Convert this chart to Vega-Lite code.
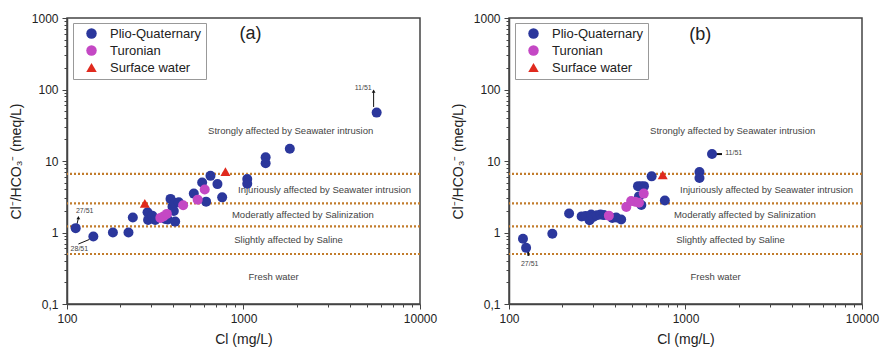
{
  "$schema": "https://vega.github.io/schema/vega-lite/v6.json",
  "padding": {"top": 11, "left": 8, "right": 4, "bottom": 0},
  "spacing": 12,
  "datasets": {
    "pts": [
      {"panel": "a", "group": "Plio-Quaternary", "cl": 112, "r": 1.15},
      {"panel": "a", "group": "Plio-Quaternary", "cl": 141, "r": 0.88},
      {"panel": "a", "group": "Plio-Quaternary", "cl": 182, "r": 1.0},
      {"panel": "a", "group": "Plio-Quaternary", "cl": 223, "r": 1.0},
      {"panel": "a", "group": "Plio-Quaternary", "cl": 236, "r": 1.62},
      {"panel": "a", "group": "Plio-Quaternary", "cl": 286, "r": 1.92},
      {"panel": "a", "group": "Plio-Quaternary", "cl": 288, "r": 1.5},
      {"panel": "a", "group": "Plio-Quaternary", "cl": 304, "r": 1.72},
      {"panel": "a", "group": "Plio-Quaternary", "cl": 316, "r": 1.5},
      {"panel": "a", "group": "Plio-Quaternary", "cl": 360, "r": 1.55},
      {"panel": "a", "group": "Plio-Quaternary", "cl": 372, "r": 1.52},
      {"panel": "a", "group": "Plio-Quaternary", "cl": 386, "r": 2.95},
      {"panel": "a", "group": "Plio-Quaternary", "cl": 396, "r": 2.3},
      {"panel": "a", "group": "Plio-Quaternary", "cl": 403, "r": 2.0},
      {"panel": "a", "group": "Plio-Quaternary", "cl": 405, "r": 2.6},
      {"panel": "a", "group": "Plio-Quaternary", "cl": 410, "r": 1.42},
      {"panel": "a", "group": "Plio-Quaternary", "cl": 430, "r": 2.65},
      {"panel": "a", "group": "Plio-Quaternary", "cl": 523, "r": 3.5},
      {"panel": "a", "group": "Plio-Quaternary", "cl": 583, "r": 5.0},
      {"panel": "a", "group": "Plio-Quaternary", "cl": 614, "r": 2.7},
      {"panel": "a", "group": "Plio-Quaternary", "cl": 650, "r": 6.2},
      {"panel": "a", "group": "Plio-Quaternary", "cl": 712, "r": 4.75},
      {"panel": "a", "group": "Plio-Quaternary", "cl": 757, "r": 3.1},
      {"panel": "a", "group": "Plio-Quaternary", "cl": 1050, "r": 5.6},
      {"panel": "a", "group": "Plio-Quaternary", "cl": 1050, "r": 4.8},
      {"panel": "a", "group": "Plio-Quaternary", "cl": 1335, "r": 11.3},
      {"panel": "a", "group": "Plio-Quaternary", "cl": 1335, "r": 9.3},
      {"panel": "a", "group": "Plio-Quaternary", "cl": 1830, "r": 14.8},
      {"panel": "a", "group": "Plio-Quaternary", "cl": 5680, "r": 47.5},
      {"panel": "a", "group": "Turonian", "cl": 338, "r": 1.6},
      {"panel": "a", "group": "Turonian", "cl": 352, "r": 1.68},
      {"panel": "a", "group": "Turonian", "cl": 368, "r": 1.82},
      {"panel": "a", "group": "Turonian", "cl": 455, "r": 2.4},
      {"panel": "a", "group": "Turonian", "cl": 550, "r": 2.88},
      {"panel": "a", "group": "Turonian", "cl": 603, "r": 4.0},
      {"panel": "a", "group": "Surface water", "cl": 276, "r": 2.55},
      {"panel": "a", "group": "Surface water", "cl": 790, "r": 7.1},
      {"panel": "b", "group": "Plio-Quaternary", "cl": 120, "r": 0.82},
      {"panel": "b", "group": "Plio-Quaternary", "cl": 125, "r": 0.61},
      {"panel": "b", "group": "Plio-Quaternary", "cl": 176, "r": 0.96},
      {"panel": "b", "group": "Plio-Quaternary", "cl": 219, "r": 1.84},
      {"panel": "b", "group": "Plio-Quaternary", "cl": 258, "r": 1.68},
      {"panel": "b", "group": "Plio-Quaternary", "cl": 272, "r": 1.7},
      {"panel": "b", "group": "Plio-Quaternary", "cl": 286, "r": 1.48},
      {"panel": "b", "group": "Plio-Quaternary", "cl": 292, "r": 1.78},
      {"panel": "b", "group": "Plio-Quaternary", "cl": 300, "r": 1.65},
      {"panel": "b", "group": "Plio-Quaternary", "cl": 315, "r": 1.74},
      {"panel": "b", "group": "Plio-Quaternary", "cl": 330, "r": 1.78},
      {"panel": "b", "group": "Plio-Quaternary", "cl": 345, "r": 1.75},
      {"panel": "b", "group": "Plio-Quaternary", "cl": 385, "r": 1.6},
      {"panel": "b", "group": "Plio-Quaternary", "cl": 405, "r": 1.62},
      {"panel": "b", "group": "Plio-Quaternary", "cl": 432, "r": 1.52},
      {"panel": "b", "group": "Plio-Quaternary", "cl": 538, "r": 4.45},
      {"panel": "b", "group": "Plio-Quaternary", "cl": 560, "r": 4.45},
      {"panel": "b", "group": "Plio-Quaternary", "cl": 582, "r": 4.45},
      {"panel": "b", "group": "Plio-Quaternary", "cl": 545, "r": 3.2},
      {"panel": "b", "group": "Plio-Quaternary", "cl": 562, "r": 2.42},
      {"panel": "b", "group": "Plio-Quaternary", "cl": 643, "r": 6.1},
      {"panel": "b", "group": "Plio-Quaternary", "cl": 764, "r": 2.8},
      {"panel": "b", "group": "Plio-Quaternary", "cl": 1200, "r": 7.0},
      {"panel": "b", "group": "Plio-Quaternary", "cl": 1200, "r": 5.8},
      {"panel": "b", "group": "Plio-Quaternary", "cl": 1413, "r": 12.5},
      {"panel": "b", "group": "Turonian", "cl": 368, "r": 1.72},
      {"panel": "b", "group": "Turonian", "cl": 462, "r": 2.28},
      {"panel": "b", "group": "Turonian", "cl": 492, "r": 2.75},
      {"panel": "b", "group": "Turonian", "cl": 518, "r": 2.7},
      {"panel": "b", "group": "Turonian", "cl": 545, "r": 2.6},
      {"panel": "b", "group": "Turonian", "cl": 580, "r": 3.5},
      {"panel": "b", "group": "Surface water", "cl": 743, "r": 6.4}
    ],
    "zones": [{"r": 0.5}, {"r": 1.22}, {"r": 2.56}, {"r": 6.6}],
    "zoneLabels": [
      {"cl": 1850, "r": 26.5, "label": "Strongly affected by Seawater intrusion"},
      {"cl": 2880, "r": 3.93, "label": "Injuriously affected by Seawater intrusion"},
      {"cl": 2170, "r": 1.76, "label": "Moderatly affected by Salinization"},
      {"cl": 1800, "r": 0.795, "label": "Slightly affected by Saline"},
      {"cl": 1480, "r": 0.236, "label": "Fresh water"}
    ],
    "arrows": [
      {"panel": "a", "cl": 5460, "r": 57, "cl2": 5460, "r2": 92},
      {"panel": "a", "cl": 114, "r": 1.32, "cl2": 116, "r2": 1.58},
      {"panel": "a", "cl": 116, "r": 0.69, "cl2": 134, "r2": 0.8},
      {"panel": "b", "cl": 1480, "r": 12.5, "cl2": 1610, "r2": 12.5},
      {"panel": "b", "cl": 128, "r": 0.56, "cl2": 129, "r2": 0.47}
    ],
    "heads": [
      {"panel": "a", "cl": 5460, "r": 95},
      {"panel": "a", "cl": 116, "r": 1.62}
    ],
    "notes": [
      {"panel": "a", "cl": 4765, "r": 106, "label": "11/51"},
      {"panel": "a", "cl": 126, "r": 1.98, "label": "27/51"},
      {"panel": "a", "cl": 117.5, "r": 0.587, "label": "28/51"},
      {"panel": "b", "cl": 1876, "r": 12.8, "label": "11/51"},
      {"panel": "b", "cl": 131, "r": 0.362, "label": "27/51"}
    ],
    "panelLabels": [
      {"panel": "a", "cl": 1097, "r": 597, "label": "(a)"},
      {"panel": "b", "cl": 1214, "r": 586, "label": "(b)"}
    ]
  },
  "hconcat": [
    {
      "width": 353, "height": 286,
      "layer": [
        {"data": {"name": "zones"}, "mark": {"type": "rule", "color": "#c27c2c", "strokeDash": [2, 2], "strokeWidth": 2.2},
         "encoding": {"y": {"field": "r", "type": "quantitative", "title": "Cl⁻/HCO₃⁻ (meq/L)", "scale": {"type": "log", "domain": [0.1, 1000]},
           "axis": {"values": [0.1,0.2,0.3,0.4,0.5,0.6,0.7,0.8,0.9,1,2,3,4,5,6,7,8,9,10,20,30,40,50,60,70,80,90,100,200,300,400,500,600,700,800,900,1000],
             "labelExpr": "datum.value==0.1?'0,1':((datum.value==1||datum.value==10||datum.value==100||datum.value==1000)?format(datum.value,'d'):'')",
             "tickSize": {"condition": {"test": "datum.value==0.1||datum.value==1||datum.value==10||datum.value==100||datum.value==1000", "value": 5}, "value": 3}}}}},
        {"data": {"name": "zoneLabels"}, "mark": {"type": "text", "fontSize": 9.5, "color": "#444"},
         "encoding": {"x": {"field": "cl", "type": "quantitative", "title": "Cl (mg/L)", "scale": {"type": "log", "domain": [100, 10000]},
           "axis": {"values": [100,200,300,400,500,600,700,800,900,1000,2000,3000,4000,5000,6000,7000,8000,9000,10000],
             "labelExpr": "(datum.value==100||datum.value==1000||datum.value==10000)?format(datum.value,'d'):''",
             "tickSize": {"condition": {"test": "datum.value==100||datum.value==1000||datum.value==10000", "value": 5}, "value": 3}}},
           "y": {"field": "r", "type": "quantitative", "title": "Cl⁻/HCO₃⁻ (meq/L)", "scale": {"type": "log", "domain": [0.1, 1000]}},
           "text": {"field": "label"}}},
        {"data": {"name": "arrows"}, "transform": [{"filter": "datum.panel=='a'"}], "mark": {"type": "rule", "color": "#111", "strokeWidth": 1},
         "encoding": {"x": {"field": "cl", "type": "quantitative", "title": "Cl (mg/L)", "scale": {"type": "log", "domain": [100, 10000]}}, "x2": {"field": "cl2"},
           "y": {"field": "r", "type": "quantitative", "title": "Cl⁻/HCO₃⁻ (meq/L)", "scale": {"type": "log", "domain": [0.1, 1000]}}, "y2": {"field": "r2"}}},
        {"data": {"name": "heads"}, "transform": [{"filter": "datum.panel=='a'"}], "mark": {"type": "point", "shape": "triangle-up", "filled": true, "color": "#111", "size": 14, "opacity": 1},
         "encoding": {"x": {"field": "cl", "type": "quantitative", "title": "Cl (mg/L)", "scale": {"type": "log", "domain": [100, 10000]}},
           "y": {"field": "r", "type": "quantitative", "title": "Cl⁻/HCO₃⁻ (meq/L)", "scale": {"type": "log", "domain": [0.1, 1000]}}}},
        {"data": {"name": "pts"}, "transform": [{"filter": "datum.panel=='a'"}], "mark": {"type": "point", "filled": true, "size": 100, "opacity": 1},
         "encoding": {"x": {"field": "cl", "type": "quantitative", "title": "Cl (mg/L)", "scale": {"type": "log", "domain": [100, 10000]}},
           "y": {"field": "r", "type": "quantitative", "title": "Cl⁻/HCO₃⁻ (meq/L)", "scale": {"type": "log", "domain": [0.1, 1000]}},
           "color": {"field": "group", "type": "nominal", "title": null, "scale": {"domain": ["Plio-Quaternary", "Turonian", "Surface water"], "range": ["#2b379c", "#c448c4", "#e02a1e"]},
             "legend": {"orient": "none", "legendX": 6, "legendY": 5}},
           "shape": {"field": "group", "type": "nominal", "title": null, "scale": {"domain": ["Plio-Quaternary", "Turonian", "Surface water"], "range": ["circle", "circle", "triangle-up"]},
             "legend": {"orient": "none", "legendX": 6, "legendY": 5}}}},
        {"data": {"name": "notes"}, "transform": [{"filter": "datum.panel=='a'"}], "mark": {"type": "text", "fontSize": 7, "color": "#444"},
         "encoding": {"x": {"field": "cl", "type": "quantitative", "title": "Cl (mg/L)", "scale": {"type": "log", "domain": [100, 10000]}},
           "y": {"field": "r", "type": "quantitative", "title": "Cl⁻/HCO₃⁻ (meq/L)", "scale": {"type": "log", "domain": [0.1, 1000]}},
           "text": {"field": "label"}}},
        {"data": {"name": "panelLabels"}, "transform": [{"filter": "datum.panel=='a'"}], "mark": {"type": "text", "fontSize": 18, "color": "#222"},
         "encoding": {"x": {"field": "cl", "type": "quantitative", "title": "Cl (mg/L)", "scale": {"type": "log", "domain": [100, 10000]}},
           "y": {"field": "r", "type": "quantitative", "title": "Cl⁻/HCO₃⁻ (meq/L)", "scale": {"type": "log", "domain": [0.1, 1000]}},
           "text": {"field": "label"}}}
      ]
    },
    {
      "width": 353, "height": 286,
      "layer": [
        {"data": {"name": "zones"}, "mark": {"type": "rule", "color": "#c27c2c", "strokeDash": [2, 2], "strokeWidth": 2.2},
         "encoding": {"y": {"field": "r", "type": "quantitative", "title": "Cl⁻/HCO₃⁻ (meq/L)", "scale": {"type": "log", "domain": [0.1, 1000]},
           "axis": {"values": [0.1,0.2,0.3,0.4,0.5,0.6,0.7,0.8,0.9,1,2,3,4,5,6,7,8,9,10,20,30,40,50,60,70,80,90,100,200,300,400,500,600,700,800,900,1000],
             "labelExpr": "datum.value==0.1?'0,1':((datum.value==1||datum.value==10||datum.value==100||datum.value==1000)?format(datum.value,'d'):'')",
             "tickSize": {"condition": {"test": "datum.value==0.1||datum.value==1||datum.value==10||datum.value==100||datum.value==1000", "value": 5}, "value": 3}}}}},
        {"data": {"name": "zoneLabels"}, "mark": {"type": "text", "fontSize": 9.5, "color": "#444"},
         "encoding": {"x": {"field": "cl", "type": "quantitative", "title": "Cl (mg/L)", "scale": {"type": "log", "domain": [100, 10000]},
           "axis": {"values": [100,200,300,400,500,600,700,800,900,1000,2000,3000,4000,5000,6000,7000,8000,9000,10000],
             "labelExpr": "(datum.value==100||datum.value==1000||datum.value==10000)?format(datum.value,'d'):''",
             "tickSize": {"condition": {"test": "datum.value==100||datum.value==1000||datum.value==10000", "value": 5}, "value": 3}}},
           "y": {"field": "r", "type": "quantitative", "title": "Cl⁻/HCO₃⁻ (meq/L)", "scale": {"type": "log", "domain": [0.1, 1000]}},
           "text": {"field": "label"}}},
        {"data": {"name": "arrows"}, "transform": [{"filter": "datum.panel=='b'"}], "mark": {"type": "rule", "color": "#111", "strokeWidth": 2},
         "encoding": {"x": {"field": "cl", "type": "quantitative", "title": "Cl (mg/L)", "scale": {"type": "log", "domain": [100, 10000]}}, "x2": {"field": "cl2"},
           "y": {"field": "r", "type": "quantitative", "title": "Cl⁻/HCO₃⁻ (meq/L)", "scale": {"type": "log", "domain": [0.1, 1000]}}, "y2": {"field": "r2"}}},
        {"data": {"name": "pts"}, "transform": [{"filter": "datum.panel=='b'"}], "mark": {"type": "point", "filled": true, "size": 100, "opacity": 1},
         "encoding": {"x": {"field": "cl", "type": "quantitative", "title": "Cl (mg/L)", "scale": {"type": "log", "domain": [100, 10000]}},
           "y": {"field": "r", "type": "quantitative", "title": "Cl⁻/HCO₃⁻ (meq/L)", "scale": {"type": "log", "domain": [0.1, 1000]}},
           "color": {"field": "group", "type": "nominal", "title": null, "scale": {"domain": ["Plio-Quaternary", "Turonian", "Surface water"], "range": ["#2b379c", "#c448c4", "#e02a1e"]},
             "legend": {"orient": "none", "legendX": 6, "legendY": 5}},
           "shape": {"field": "group", "type": "nominal", "title": null, "scale": {"domain": ["Plio-Quaternary", "Turonian", "Surface water"], "range": ["circle", "circle", "triangle-up"]},
             "legend": {"orient": "none", "legendX": 6, "legendY": 5}}}},
        {"data": {"name": "notes"}, "transform": [{"filter": "datum.panel=='b'"}], "mark": {"type": "text", "fontSize": 7, "color": "#444"},
         "encoding": {"x": {"field": "cl", "type": "quantitative", "title": "Cl (mg/L)", "scale": {"type": "log", "domain": [100, 10000]}},
           "y": {"field": "r", "type": "quantitative", "title": "Cl⁻/HCO₃⁻ (meq/L)", "scale": {"type": "log", "domain": [0.1, 1000]}},
           "text": {"field": "label"}}},
        {"data": {"name": "panelLabels"}, "transform": [{"filter": "datum.panel=='b'"}], "mark": {"type": "text", "fontSize": 18, "color": "#222"},
         "encoding": {"x": {"field": "cl", "type": "quantitative", "title": "Cl (mg/L)", "scale": {"type": "log", "domain": [100, 10000]}},
           "y": {"field": "r", "type": "quantitative", "title": "Cl⁻/HCO₃⁻ (meq/L)", "scale": {"type": "log", "domain": [0.1, 1000]}},
           "text": {"field": "label"}}}
      ]
    }
  ],
  "resolve": {"scale": {"color": "independent", "shape": "independent", "x": "independent", "y": "independent"}, "legend": {"color": "independent", "shape": "independent"}},
  "config": {
    "font": "Liberation Sans",
    "view": {"stroke": "#444", "strokeWidth": 1.5},
    "axis": {"domainColor": "#444", "domainWidth": 1.5, "tickColor": "#444", "tickWidth": 1, "labelFontSize": 12, "labelColor": "#222",
      "titleFontSize": 14, "titleFontWeight": "normal", "titleColor": "#222", "grid": false, "labelFlush": false, "labelOverlap": false, "labelPadding": 4, "titlePadding": 8},
    "legend": {"strokeColor": "#999", "fillColor": "white", "padding": 4, "symbolSize": 110, "labelFontSize": 13, "labelColor": "#222", "symbolOffset": 8, "labelOffset": 12, "rowPadding": 3, "symbolStrokeWidth": 0, "labelLimit": 200}
  }
}
